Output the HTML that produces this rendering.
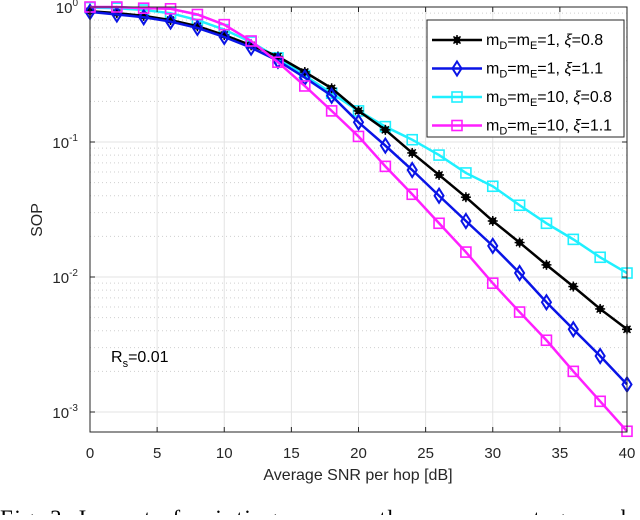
<!DOCTYPE html>
<html><head><meta charset="utf-8"><style>
body{margin:0;background:#fff;overflow:hidden;}
svg text{font-family:"Liberation Sans",sans-serif;}
</style></head><body>
<svg id="chart" width="640" height="515" xmlns="http://www.w3.org/2000/svg">
<g id="grid"></g>
<g id="series"></g>
<g id="axes"></g>
</svg>
<script>
const snr=[0,2,4,6,8,10,12,14,16,18,20,22,24,26,28,30,32,34,36,38,40];
const sopM1X08=[0.93,0.9,0.86,0.8,0.72,0.62,0.52,0.43,0.33,0.25,0.17,0.123,0.083,0.057,0.039,0.026,0.018,0.0123,0.0085,0.0058,0.0041];
const sopM1X11=[0.92,0.88,0.84,0.78,0.7,0.6,0.5,0.4,0.3,0.22,0.14,0.094,0.062,0.04,0.026,0.017,0.0107,0.0065,0.0041,0.0026,0.0016];
const sopM10X08=[0.99,0.98,0.95,0.9,0.8,0.68,0.55,0.42,0.31,0.23,0.17,0.13,0.104,0.08,0.059,0.047,0.034,0.025,0.019,0.014,0.0107];
const sopM10X11=[1.0,1.0,0.98,0.97,0.88,0.74,0.56,0.39,0.26,0.17,0.11,0.066,0.041,0.025,0.0153,0.009,0.0055,0.0034,0.002,0.0012,0.00072];
const xTicks=[0,5,10,15,20,25,30,35,40];
const yDecades=[0,-1,-2,-3];
const legendLabels=[["1","1","0.8"],["1","1","1.1"],["10","10","0.8"],["10","10","1.1"]];

const L=90,R=627,T=7,B=432,DEC=135;
const xs=v=>L+(v-0)/(40-0)*(R-L);
const ys=v=>T-Math.log10(v)*DEC;
const NS="http://www.w3.org/2000/svg";
function mk(tag,attrs,parent){const e=document.createElementNS(NS,tag);for(const k in attrs)e.setAttribute(k,attrs[k]);parent.appendChild(e);return e;}
const grid=document.getElementById('grid'),ser=document.getElementById('series'),ax=document.getElementById('axes'),svg=document.getElementById('chart');

xTicks.forEach(t=>{const l=mk('line',{x1:xs(t),x2:xs(t),y1:T,y2:B,stroke:'#e3e3e3','stroke-width':1},grid);

});
yDecades.forEach(d=>{
 for(let m=1;m<10;m++){const v=m*Math.pow(10,d);const y=ys(v);if(y<T-0.5||y>B)continue;
  const l=mk('line',{x1:L,x2:R,y1:y,y2:y,stroke:m==1?'#e3e3e3':'#cfcfcf','stroke-width':1,'stroke-dasharray':m==1?'':'1,3'},grid);
  
  }
});
const box=mk('rect',{x:L,y:T,width:R-L,height:B-T,fill:'none',stroke:'#262626','stroke-width':1},ax);


xTicks.forEach(t=>{const x=xs(t);
 mk('line',{x1:x,x2:x,y1:B,y2:B-5,stroke:'#262626'},ax);mk('line',{x1:x,x2:x,y1:T,y2:T+5,stroke:'#262626'},ax);
 const tx=mk('text',{x:x,y:458,'font-size':15,'text-anchor':'middle',fill:'#262626'},ax);tx.textContent=t;
 
 });
yDecades.forEach(d=>{const y=ys(Math.pow(10,d));
 mk('line',{x1:L,x2:L+5,y1:y,y2:y,stroke:'#262626'},ax);mk('line',{x1:R,x2:R-5,y1:y,y2:y,stroke:'#262626'},ax);
 const tx=mk('text',{x:78,y:y+6,'font-size':15,'text-anchor':'end',fill:'#262626'},ax);
 
 
 tx.innerHTML='10<tspan dy="-7" font-size="10">'+d+'</tspan>';});
const xl=mk('text',{x:358,y:480,'font-size':16,'text-anchor':'middle',fill:'#262626'},ax);xl.textContent='Average SNR per hop [dB]';


const yl=mk('text',{x:42,y:220,'font-size':16,'text-anchor':'middle',fill:'#262626',transform:'rotate(-90 42 220)'},ax);yl.textContent='SOP';


const rs=mk('text',{x:111,y:362,'font-size':16,fill:'#000'},ax);rs.innerHTML='R<tspan dy="5" font-size="11">s</tspan><tspan dy="-5">=0.01</tspan>';



function marker(g,type,x,y,c){
 if(type==='star'){mk('circle',{cx:x,cy:y,r:3.5,fill:c},g);
  for(let a=0;a<4;a++){const an=a*Math.PI/4;mk('line',{x1:x-5*Math.cos(an),y1:y-5*Math.sin(an),x2:x+5*Math.cos(an),y2:y+5*Math.sin(an),stroke:c,'stroke-width':1.5},g);}}
 else if(type==='diamond'){mk('polygon',{points:`${x},${y-7} ${x+4.5},${y} ${x},${y+7} ${x-4.5},${y}`,fill:'none',stroke:c,'stroke-width':2},g);}
 else mk('rect',{x:x-5,y:y-5,width:10,height:10,fill:'none',stroke:c,'stroke-width':1.6},g);
}
const defs=[[sopM1X08,'#000000','star'],[sopM1X11,'#0a14e6','diamond'],[sopM10X08,'#1ff0ff','square'],[sopM10X11,'#ff1fff','square']];
const order=[2,0,1,3];
order.forEach(i=>{const [data,c,mt]=defs[i];
 const g=mk('g',{},ser);
 
 
 const pts=data.map((v,j)=>xs(snr[j])+','+ys(v)).join(' ');
 mk('polyline',{points:pts,fill:'none',stroke:c,'stroke-width':2.5},g);
 data.forEach((v,j)=>marker(g,mt,xs(snr[j]),ys(v),c));
});
const lg=mk('g',{},svg);


mk('rect',{x:427,y:20,width:197,height:117,fill:'#fff',stroke:'#262626','stroke-width':1},lg);
defs.forEach(([d,c,mt],i)=>{const y=40+i*28.5;
 const e=mk('g',{},lg);
 
 
 mk('line',{x1:432,x2:482,y1:y,y2:y,stroke:c,'stroke-width':2.5},e);marker(e,mt,457,y,c);
 const t=mk('text',{x:486,y:y+5,'font-size':16,fill:'#000'},e);
 const lab=legendLabels[i];
 t.innerHTML='m<tspan dy="4" font-size="11">D</tspan><tspan dy="-4">=m</tspan><tspan dy="4" font-size="11">E</tspan><tspan dy="-4">='+lab[0]+', </tspan><tspan font-style="italic">ξ</tspan>='+lab[2];
});
const cap=mk('text',{x:0,y:526,'font-size':23,fill:'#000'},svg);
cap.setAttribute('style','font-family:"Liberation Serif",serif;letter-spacing:1.6px');
cap.textContent='Fig. 3: Impact of pointing error on the secrecy outage prob';


</script>
</body></html>
